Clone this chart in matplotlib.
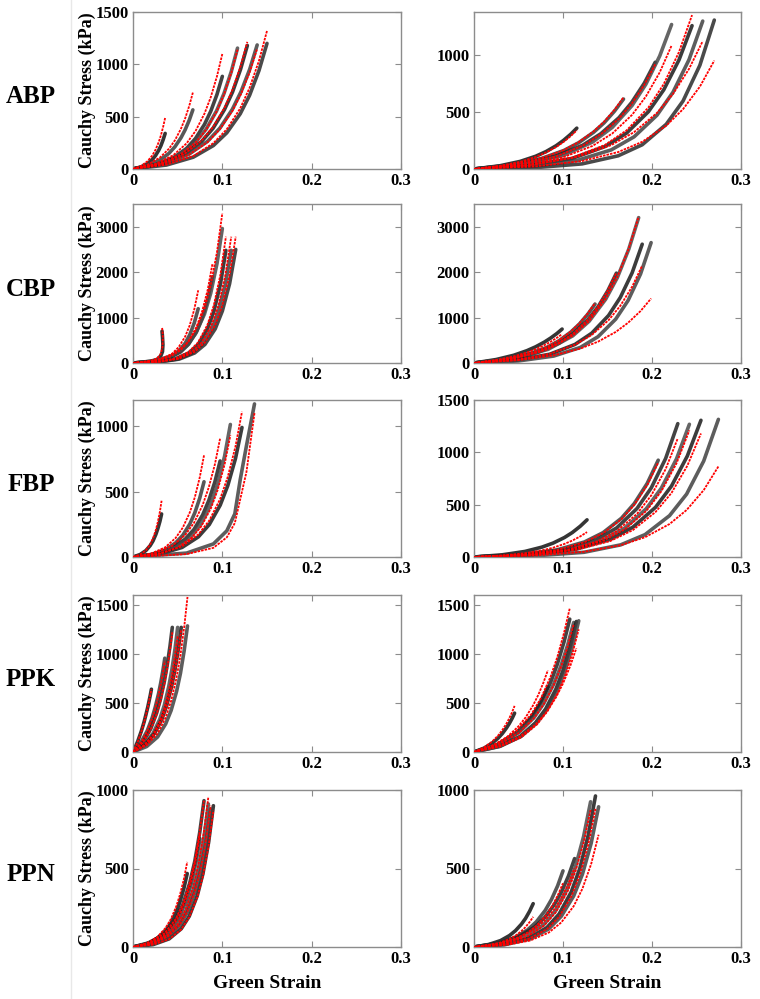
import matplotlib
matplotlib.use("Agg")
import matplotlib.pyplot as plt
from matplotlib.lines import Line2D

plt.rcParams['font.family'] = ['Liberation Serif', 'DejaVu Serif']
plt.rcParams['font.weight'] = 'bold'

row_labels = ["ABP", "CBP", "FBP", "PPK", "PPN"]
x_ticks = [0, 0.1, 0.2, 0.3]
x_tick_labels = ["0", "0.1", "0.2", "0.3"]
y_label = "Cauchy Stress (kPa)"
x_label = "Green Strain"

# ---------------- ABP ----------------
abp_l_strain = [[0, .009, .0162, .0216, .0252, .0288, .0313, .0338, .036],
                [0, .0168, .0302, .0402, .0469, .0536, .0583, .0630, .067],
                [0, .025, .045, .060, .070, .080, .087, .094, .100],
                [0, .0293, .0527, .0702, .0819, .0936, .1018, .1100, .117],
                [0, .032, .0576, .0768, .0896, .1024, .1114, .1203, .128],
                [0, .0348, .0626, .0834, .0973, .1112, .1209, .1307, .139],
                [0, .0375, .0675, .090, .105, .120, .1305, .141, .150]]
abp_l_exp = [[0, 20, 51, 90, 128, 179, 224, 281, 340],
             [0, 33, 85, 149, 212, 297, 373, 467, 565],
             [0, 39, 105, 197, 292, 426, 551, 712, 885],
             [0, 50, 137, 258, 381, 556, 720, 930, 1155],
             [0, 51, 140, 263, 389, 568, 735, 950, 1180],
             [0, 52, 141, 264, 391, 570, 738, 954, 1185],
             [0, 38, 113, 224, 346, 527, 704, 940, 1200]]
abp_l_fit = [[0, 29, 74, 129, 184, 257, 323, 405, 490],
             [0, 43, 110, 193, 274, 383, 482, 604, 730],
             [0, 48, 131, 245, 363, 529, 685, 886, 1100],
             [0, 50, 136, 254, 376, 548, 710, 918, 1140],
             [0, 53, 145, 271, 401, 584, 757, 978, 1215],
             [0, 50, 137, 256, 380, 553, 716, 926, 1150],
             [0, 42, 124, 247, 380, 579, 775, 1034, 1320]]

abp_r_strain = [[0, .0289, .052, .0693, .0809, .0924, .1005, .1086, .1155],
                [0, .042, .0756, .1008, .1176, .1344, .1462, .1579, .168],
                [0, .0509, .0916, .1222, .1425, .1629, .1771, .1914, .2036],
                [0, .0555, .0999, .1332, .1554, .1776, .1931, .2087, .222],
                [0, .0613, .1103, .147, .1715, .196, .2132, .2303, .245],
                [0, .0643, .1157, .1542, .1799, .2056, .2236, .2416, .257],
                [0, .0675, .1215, .162, .189, .216, .2349, .2538, .270]]
abp_r_exp = [[0, 28, 67, 112, 153, 205, 251, 305, 359],
             [0, 36, 92, 162, 231, 323, 406, 509, 615],
             [0, 41, 112, 209, 310, 451, 584, 755, 938],
             [0, 41, 119, 237, 366, 558, 745, 994, 1270],
             [0, 29, 93, 197, 316, 504, 696, 958, 1260],
             [0, 22, 75, 168, 283, 473, 675, 961, 1300],
             [0, 11, 45, 116, 213, 393, 598, 912, 1309]]
abp_r_fit = [[0, 27, 63, 106, 145, 194, 237, 289, 340],
             [0, 37, 95, 166, 236, 331, 416, 521, 630],
             [0, 40, 109, 205, 304, 443, 573, 741, 920],
             [0, 35, 102, 203, 312, 476, 637, 850, 1085],
             [0, 32, 100, 211, 340, 541, 747, 1028, 1353],
             [0, 36, 106, 210, 324, 493, 660, 880, 1124],
             [0, 22, 70, 149, 239, 381, 526, 724, 953]]

# ---------------- CBP ----------------
cbp_l_strain = [[0, .010, .020, .027, .031, .033, .0335, .033, .0325],
                [0, .0183, .0329, .0438, .0511, .0584, .0635, .0686, .073],
                [0, .0223, .0401, .0534, .0623, .0712, .0774, .0837, .089],
                [0, .025, .045, .060, .070, .080, .087, .094, .100],
                [0, .026, .0468, .0624, .0728, .0832, .0905, .0978, .104],
                [0, .0275, .0495, .066, .077, .088, .0957, .1034, .110],
                [0, .0288, .0518, .069, .0805, .092, .100, .1081, .115]]
cbp_l_exp = [[0, 15, 40, 80, 150, 250, 400, 580, 700],
             [0, 20, 69, 154, 261, 435, 620, 883, 1195],
             [0, 32, 109, 245, 414, 692, 986, 1404, 1900],
             [0, 50, 170, 382, 645, 1077, 1536, 2187, 2960],
             [0, 22, 86, 219, 404, 744, 1133, 1729, 2480],
             [0, 22, 86, 219, 404, 744, 1133, 1729, 2480],
             [0, 22, 86, 221, 408, 750, 1143, 1743, 2500]]
cbp_l_fit = [[0, 18, 50, 100, 200, 350, 550, 720, 780],
             [0, 27, 92, 206, 349, 582, 830, 1182, 1600],
             [0, 37, 126, 283, 477, 797, 1137, 1618, 2190],
             [0, 56, 190, 426, 719, 1201, 1713, 2439, 3300],
             [0, 24, 96, 246, 453, 834, 1270, 1938, 2780],
             [0, 24, 96, 246, 453, 834, 1270, 1938, 2780],
             [0, 24, 96, 246, 453, 834, 1270, 1938, 2780]]

cbp_r_strain = [[0, .0248, .0446, .0594, .0693, .0792, .0861, .0931, .099],
                [0, .034, .0612, .0816, .0952, .1088, .1183, .1278, .136],
                [0, .040, .072, .096, .112, .128, .1392, .1504, .160],
                [0, .0463, .0833, .111, .1295, .148, .161, .1739, .185],
                [0, .0473, .0851, .1134, .1323, .1512, .1644, .1777, .189],
                [0, .0498, .0896, .1194, .1393, .1592, .1731, .1871, .199]]
cbp_r_exp = [[0, 76, 170, 271, 357, 462, 549, 649, 747],
             [0, 76, 195, 342, 486, 681, 856, 1073, 1297],
             [0, 86, 235, 441, 653, 951, 1232, 1592, 1978],
             [0, 102, 301, 598, 922, 1405, 1878, 2506, 3200],
             [0, 61, 193, 408, 656, 1046, 1443, 1987, 2615],
             [0, 45, 153, 342, 578, 965, 1375, 1958, 2650]]
cbp_r_fit = [[0, 65, 145, 231, 304, 394, 468, 554, 637],
             [0, 77, 198, 348, 495, 693, 871, 1092, 1320],
             [0, 87, 237, 444, 657, 957, 1240, 1602, 1990],
             [0, 103, 303, 602, 927, 1414, 1890, 2521, 3220],
             [0, 69, 202, 401, 618, 942, 1259, 1680, 2145],
             [0, 62, 169, 317, 469, 683, 885, 1143, 1420]]

# ---------------- FBP ----------------
fbp_l_strain = [[0, .008, .0144, .0192, .0224, .0256, .0278, .0301, .032],
                [0, .0199, .0358, .0477, .0557, .0636, .0692, .0747, .0795],
                [0, .0244, .0439, .0585, .0683, .078, .0848, .0917, .0975],
                [0, .0273, .0491, .0654, .0763, .0872, .0948, .1025, .109],
                [0, .0305, .0549, .0732, .0854, .0976, .1061, .1147, .122],
                [0, .060, .090, .105, .114, .120, .127, .136]]
fbp_l_exp = [[0, 19, 49, 87, 123, 173, 217, 272, 329],
             [0, 18, 54, 108, 166, 252, 338, 450, 575],
             [0, 23, 69, 137, 211, 322, 431, 575, 734],
             [0, 24, 75, 158, 254, 405, 559, 770, 1013],
             [0, 23, 73, 154, 248, 396, 546, 752, 990],
             [0, 30, 100, 200, 330, 590, 850, 1170]]
fbp_l_fit = [[0, 19, 51, 96, 142, 207, 268, 346, 430],
             [0, 25, 73, 145, 224, 341, 456, 608, 777],
             [0, 29, 85, 169, 261, 398, 532, 709, 906],
             [0, 22, 69, 145, 233, 372, 513, 707, 930],
             [0, 26, 82, 173, 279, 444, 613, 844, 1110],
             [0, 22, 70, 150, 260, 440, 650, 1100]]

fbp_r_strain = [[0, .0318, .0572, .0762, .0889, .1016, .1105, .1194, .127],
                [0, .0518, .0932, .1242, .1449, .1656, .1801, .1946, .207],
                [0, .0573, .1031, .1374, .1603, .1832, .1992, .2153, .229],
                [0, .0605, .1089, .1452, .1694, .1936, .2105, .2275, .242],
                [0, .0638, .1148, .153, .1785, .204, .2219, .2397, .255],
                [0, .0687, .1236, .1648, .1922, .2197, .2389, .2581, .2746]]
fbp_r_exp = [[0, 21, 53, 94, 133, 186, 234, 294, 355],
             [0, 22, 68, 144, 232, 370, 511, 703, 925],
             [0, 22, 73, 164, 278, 464, 661, 941, 1274],
             [0, 21, 73, 164, 276, 462, 658, 937, 1268],
             [0, 22, 75, 168, 285, 475, 678, 965, 1306],
             [0, 11, 45, 116, 214, 395, 601, 917, 1315]]
fbp_r_fit = [[0, 14, 36, 63, 89, 125, 157, 197, 238],
             [0, 21, 67, 141, 227, 361, 498, 686, 903],
             [0, 19, 65, 146, 247, 413, 589, 839, 1135],
             [0, 20, 70, 156, 264, 440, 628, 894, 1210],
             [0, 20, 68, 152, 257, 430, 612, 872, 1180],
             [0, 15, 50, 112, 189, 315, 449, 639, 865]]

# ---------------- PPK ----------------
ppk_l_strain = [[0, .0052, .0093, .0124, .0144, .0165, .0179, .0194, .0206],
                [0, .0089, .016, .0214, .0249, .0285, .031, .0335, .0356],
                [0, .011, .0198, .0264, .0308, .0352, .0383, .0414, .044],
                [0, .0125, .0225, .030, .035, .040, .0435, .047, .050],
                [0, .0135, .0243, .0324, .0378, .0432, .047, .0508, .054],
                [0, .0153, .0275, .0366, .0427, .0488, .0531, .0573, .061]]
ppk_l_exp = [[0, 106, 212, 306, 378, 456, 516, 581, 640],
             [0, 98, 218, 347, 457, 591, 703, 831, 956],
             [0, 99, 236, 396, 540, 725, 886, 1078, 1270],
             [0, 74, 191, 335, 476, 667, 838, 1050, 1270],
             [0, 74, 191, 335, 476, 667, 838, 1050, 1270],
             [0, 56, 153, 287, 424, 618, 801, 1034, 1285]]
ppk_l_fit = [[0, 100, 205, 300, 372, 452, 514, 580, 640],
             [0, 95, 212, 337, 444, 574, 683, 807, 929],
             [0, 95, 227, 381, 519, 697, 852, 1036, 1220],
             [0, 69, 177, 312, 443, 620, 779, 976, 1180],
             [0, 73, 188, 330, 469, 656, 825, 1034, 1250],
             [0, 69, 188, 352, 521, 760, 984, 1272, 1580]]

ppk_r_strain = [[0, .0114, .0205, .0274, .0319, .0365, .0397, .0429, .0456],
                [0, .0208, .0374, .0498, .0581, .0664, .0722, .078, .083],
                [0, .0269, .0484, .0646, .0753, .0861, .0936, .1011, .1076],
                [0, .028, .0504, .0672, .0784, .0896, .0974, .1053, .112],
                [0, .0288, .0518, .069, .0805, .092, .100, .1081, .115],
                [0, .0294, .053, .0706, .0824, .0942, .1024, .1106, .1177]]
ppk_r_exp = [[0, 40, 90, 144, 189, 245, 291, 344, 396],
             [0, 52, 124, 207, 283, 380, 464, 565, 665],
             [0, 79, 203, 357, 508, 711, 894, 1120, 1354],
             [0, 77, 198, 348, 495, 693, 871, 1092, 1320],
             [0, 58, 158, 297, 439, 640, 829, 1071, 1330],
             [0, 58, 159, 298, 441, 643, 833, 1076, 1337]]
ppk_r_fit = [[0, 48, 107, 171, 225, 290, 345, 408, 470],
             [0, 65, 155, 260, 354, 476, 581, 707, 833],
             [0, 86, 220, 387, 549, 769, 967, 1212, 1465],
             [0, 76, 195, 343, 488, 683, 858, 1075, 1300],
             [0, 62, 159, 279, 397, 555, 698, 875, 1058],
             [0, 55, 149, 279, 413, 601, 779, 1006, 1250]]

# ---------------- PPN ----------------
ppn_l_strain = [[0, .0152, .0273, .0364, .0425, .0486, .0528, .0571, .0607],
                [0, .0188, .0338, .045, .0525, .060, .0653, .0705, .075],
                [0, .0199, .0358, .0477, .0557, .0636, .0692, .0747, .0795],
                [0, .0211, .038, .0506, .0591, .0675, .0734, .0793, .0844],
                [0, .0225, .0405, .054, .063, .072, .0783, .0846, .090],
                [0, .0218, .0392, .0522, .0609, .0696, .0757, .0818, .087]]
ppn_l_exp = [[0, 20, 56, 104, 154, 225, 292, 377, 468],
             [0, 22, 65, 129, 199, 303, 405, 540, 690],
             [0, 30, 88, 174, 268, 409, 547, 730, 932],
             [0, 21, 67, 142, 229, 364, 503, 692, 911],
             [0, 15, 52, 116, 196, 328, 467, 665, 900],
             [0, 21, 65, 137, 221, 352, 486, 669, 880]]
ppn_l_fit = [[0, 24, 64, 121, 179, 261, 338, 436, 542],
             [0, 23, 68, 135, 207, 316, 423, 564, 720],
             [0, 31, 90, 178, 272, 413, 550, 732, 932],
             [0, 22, 71, 149, 240, 383, 529, 728, 958],
             [0, 15, 50, 112, 190, 317, 452, 643, 870],
             [0, 21, 67, 140, 226, 360, 497, 684, 900]]

ppn_r_strain = [[0, .0166, .0299, .0399, .0466, .0532, .0579, .0625, .0665],
                [0, .025, .045, .060, .070, .080, .087, .094, .100],
                [0, .0283, .0509, .0678, .0791, .0904, .0983, .1062, .113],
                [0, .0328, .059, .0786, .0917, .1048, .114, .1231, .131],
                [0, .0341, .0614, .0819, .0956, .1092, .1188, .1283, .1365],
                [0, .035, .063, .084, .098, .112, .1218, .1316, .140]]
ppn_r_exp = [[0, 16, 41, 73, 104, 145, 182, 228, 276],
             [0, 21, 58, 108, 160, 233, 302, 390, 485],
             [0, 25, 67, 126, 186, 271, 351, 453, 563],
             [0, 22, 68, 144, 232, 370, 511, 703, 925],
             [0, 16, 55, 124, 210, 350, 499, 711, 962],
             [0, 15, 51, 115, 195, 325, 463, 660, 893]]
ppn_r_fit = [[0, 11, 29, 51, 72, 101, 127, 159, 192],
             [0, 18, 48, 91, 134, 195, 253, 327, 406],
             [0, 22, 60, 112, 166, 241, 313, 404, 502],
             [0, 20, 64, 136, 219, 349, 481, 663, 872],
             [0, 15, 51, 114, 192, 320, 457, 650, 880],
             [0, 12, 41, 92, 156, 260, 371, 528, 715]]

y_max = [(1500, 1380), (3500, 3500), (1200, 1500), (1600, 1600), (1000, 1000)]
y_ticks = [([0, 500, 1000, 1500], [0, 500, 1000]),
           ([0, 1000, 2000, 3000], [0, 1000, 2000, 3000]),
           ([0, 500, 1000], [0, 500, 1000, 1500]),
           ([0, 500, 1000, 1500], [0, 500, 1000, 1500]),
           ([0, 500, 1000], [0, 500, 1000])]

panels = [
    ((abp_l_strain, abp_l_exp, abp_l_fit), (abp_r_strain, abp_r_exp, abp_r_fit)),
    ((cbp_l_strain, cbp_l_exp, cbp_l_fit), (cbp_r_strain, cbp_r_exp, cbp_r_fit)),
    ((fbp_l_strain, fbp_l_exp, fbp_l_fit), (fbp_r_strain, fbp_r_exp, fbp_r_fit)),
    ((ppk_l_strain, ppk_l_exp, ppk_l_fit), (ppk_r_strain, ppk_r_exp, ppk_r_fit)),
    ((ppn_l_strain, ppn_l_exp, ppn_l_fit), (ppn_r_strain, ppn_r_exp, ppn_r_fit)),
]

W, H = 760, 999
fig = plt.figure(figsize=(W / 100, H / 100), dpi=100)
fig.add_artist(Line2D([71 / W, 71 / W], [0, 1], color='#e8e8e8', lw=1))

col_x = [(133, 401), (474, 741)]
row_y = [(12, 169), (204, 363), (400, 557), (595, 752), (790, 947)]
spine_c = '#8c8c8c'
exp_shades = ['#111111', '#3a3a3a', '#222222', '#4a4a4a', '#1a1a1a', '#404040', '#2a2a2a']

for r, (top, bot) in enumerate(row_y):
    for c, (xl, xr) in enumerate(col_x):
        ax = fig.add_axes([xl / W, 1 - bot / H, (xr - xl) / W, (bot - top) / H])
        strains, exps, fits = panels[r][c]
        for i, (s, e) in enumerate(zip(strains, exps)):
            col = exp_shades[i % len(exp_shades)]
            ax.plot(s, e, color=col, lw=2.6, alpha=0.85, solid_joinstyle='round',
                    solid_capstyle='round', zorder=2)
        for s, f in zip(strains, fits):
            ax.plot(s, f, color='red', lw=1.3, linestyle=(0, (1.4, 0.6)), zorder=3)
        ax.set_xlim(0, 0.3)
        ax.set_ylim(0, y_max[r][c])
        ax.set_xticks(x_ticks)
        ax.set_xticklabels(x_tick_labels)
        ax.set_yticks(y_ticks[r][c])
        ax.set_yticklabels([str(v) for v in y_ticks[r][c]])
        for sp in ax.spines.values():
            sp.set_color(spine_c)
            sp.set_linewidth(1.0)
        ax.tick_params(direction='in', top=True, right=True, length=4, width=0.8,
                       color=spine_c, labelsize=12, pad=3)
        for lab in ax.get_xticklabels() + ax.get_yticklabels():
            lab.set_fontweight('bold')
        if c == 0:
            fig.text(87 / W, 1 - (top + bot) / 2 / H, y_label, rotation=90,
                     ha='center', va='center', fontsize=13, fontweight='bold')
        if r == len(row_y) - 1:
            fig.text((xl + xr) / 2 / W, 1 - 983 / H, x_label, ha='center', va='center',
                     fontsize=14, fontweight='bold')
    fig.text(31 / W, 1 - ((top + bot) / 2 + 6) / H, row_labels[r], ha='center',
             va='center', fontsize=18, fontweight='bold')

fig.savefig("out.png", dpi=100)
